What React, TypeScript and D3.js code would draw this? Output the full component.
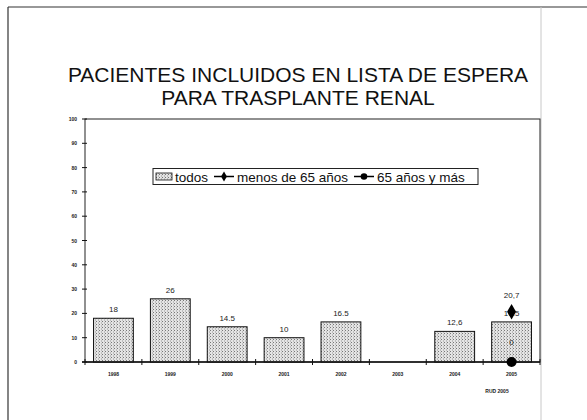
import React from "react";
import * as d3 from "d3";

const years = ["1998", "1999", "2000", "2001", "2002", "2003", "2004", "2005"];
const todos: (number | null)[] = [18, 26, 14.5, 10, 16.5, null, 12.6, 16.5];
const todosLabels = ["18", "26", "14.5", "10", "16.5", "", "12,6", "16.5"];
const menos65: (number | null)[] = [null, null, null, null, null, null, null, 20.7];
const menos65Labels = ["", "", "", "", "", "", "", "20,7"];
const mas65: (number | null)[] = [null, null, null, null, null, null, null, 0];
const mas65Labels = ["", "", "", "", "", "", "", "0"];
const yTicks = [0, 10, 20, 30, 40, 50, 60, 70, 80, 90, 100];
const titleLines = ["PACIENTES INCLUIDOS EN LISTA DE ESPERA", "PARA TRASPLANTE RENAL"];
const legendLabels = ["todos", "menos de 65 años", "65 años y más"];
const source = "RUD 2005";

const W = 587;
const H = 420;
const plot = { left: 85, right: 540, top: 119, bottom: 362 };
const FONT = "'Liberation Sans', Arial, sans-serif";

export default function App() {
  const x = d3.scaleBand<string>().domain(years).range([plot.left, plot.right]).paddingInner(0.3).paddingOuter(0.15);
  const xb = d3.scaleBand<string>().domain(years).range([plot.left, plot.right]);
  const y = d3.scaleLinear().domain([0, 100]).range([plot.bottom, plot.top]);
  const cx = (i: number) => (xb(years[i]) as number) + xb.bandwidth() / 2;

  const line = d3
    .line<number | null>()
    .defined((d) => d !== null)
    .x((_, i) => cx(i))
    .y((d) => y(d as number));

  const diamond = d3.symbol().type(d3.symbolDiamond).size(70)();
  const legY = 176.5;

  return (
    <svg width={W} height={H} style={{ position: "absolute", left: 0, top: 0, background: "#fff" }} fontFamily={FONT}>
      <defs>
        <pattern id="stip" width="3" height="3" patternUnits="userSpaceOnUse">
          <rect width="3" height="3" fill="#e4e4e4" />
          <rect x="0" y="0" width="1" height="1" fill="#777" />
          <rect x="2" y="1.5" width="1" height="1" fill="#999" />
        </pattern>
      </defs>
      {/* outer frame */}
      <line x1={8} y1={7} x2={W} y2={7} stroke="#333" strokeWidth={1.2} />
      <line x1={8} y1={7} x2={8} y2={H} stroke="#333" strokeWidth={1.2} />
      <line x1={541} y1={7} x2={541} y2={H} stroke="#c8c8c8" strokeWidth={1} />

      {/* title */}
      {titleLines.map((t, i) => (
        <text key={t} x={298} y={82 + i * 23} textAnchor="middle" fontSize={21} fill="#111">
          {t}
        </text>
      ))}

      {/* plot box */}
      <rect x={plot.left} y={plot.top} width={plot.right - plot.left} height={plot.bottom - plot.top} fill="none" stroke="#222" strokeWidth={1} />

      {/* y axis ticks */}
      {yTicks.map((t) => (
        <g key={t}>
          <line x1={plot.left - 3} x2={plot.left + 2} y1={y(t)} y2={y(t)} stroke="#111" strokeWidth={1} />
          <text x={plot.left - 8} y={y(t) + 2} textAnchor="end" fontSize={5} fontWeight="bold" fill="#222">
            {t}
          </text>
        </g>
      ))}

      {/* bars */}
      {todos.map((v, i) =>
        v === null ? null : (
          <g key={years[i]}>
            <rect
              x={x(years[i]) as number}
              y={y(v)}
              width={x.bandwidth()}
              height={plot.bottom - y(v)}
              fill="url(#stip)"
              stroke="#111"
              strokeWidth={1}
            />
            <text x={cx(i)} y={y(v) - 6} textAnchor="middle" fontSize={8} fill="#222">
              {todosLabels[i]}
            </text>
          </g>
        )
      )}

      {/* x axis */}
      <line x1={plot.left - 3} x2={plot.right} y1={plot.bottom} y2={plot.bottom} stroke="#111" strokeWidth={1.5} />
      {years.map((yr, i) => (
        <g key={yr}>
          <line x1={xb(yr) as number} x2={xb(yr) as number} y1={plot.bottom - 3} y2={plot.bottom + 3} stroke="#111" />
          <text x={cx(i)} y={plot.bottom + 14} textAnchor="middle" fontSize={5} fontWeight="bold" fill="#222">
            {yr}
          </text>
        </g>
      ))}
      <line x1={plot.right} x2={plot.right} y1={plot.bottom - 3} y2={plot.bottom + 3} stroke="#111" />

      {/* series lines & markers */}
      <path d={line(menos65) || ""} fill="none" stroke="#000" strokeWidth={1.5} />
      <path d={line(mas65) || ""} fill="none" stroke="#000" strokeWidth={1.5} />
      {menos65.map((v, i) =>
        v === null ? null : (
          <g key={"m" + i}>
            <path d={diamond || ""} transform={`translate(${cx(i)},${y(v)})`} fill="#000" />
            <text x={cx(i)} y={y(v) - 14} textAnchor="middle" fontSize={8} fill="#222">
              {menos65Labels[i]}
            </text>
          </g>
        )
      )}
      {mas65.map((v, i) =>
        v === null ? null : (
          <g key={"o" + i}>
            <circle cx={cx(i)} cy={y(v)} r={5} fill="#000" />
            <text x={cx(i)} y={y(v) - 17} textAnchor="middle" fontSize={8} fill="#222">
              {mas65Labels[i]}
            </text>
          </g>
        )
      )}

      {/* legend */}
      <g>
        <rect x={153} y={168.5} width={325} height={16} fill="#fff" stroke="#222" strokeWidth={1} />
        <rect x={156} y={173} width={16} height={7} fill="url(#stip)" stroke="#111" strokeWidth={0.8} />
        <text x={175} y={legY + 5} fontSize={13.5} fill="#111">{legendLabels[0]}</text>
        <line x1={214} x2={234} y1={legY} y2={legY} stroke="#000" strokeWidth={1.5} />
        <path d={d3.symbol().type(d3.symbolDiamond).size(30)() || ""} transform={`translate(224,${legY})`} fill="#000" />
        <text x={237} y={legY + 5} fontSize={13.5} fill="#111">{legendLabels[1]}</text>
        <line x1={354} x2={374} y1={legY} y2={legY} stroke="#000" strokeWidth={1.5} />
        <circle cx={364} cy={legY} r={3.3} fill="#000" />
        <text x={377} y={legY + 5} fontSize={13.5} fill="#111">{legendLabels[2]}</text>
      </g>

      {/* source */}
      <text x={497} y={393} textAnchor="middle" fontSize={5} fontWeight="bold" fill="#222">
        {source}
      </text>
    </svg>
  );
}
